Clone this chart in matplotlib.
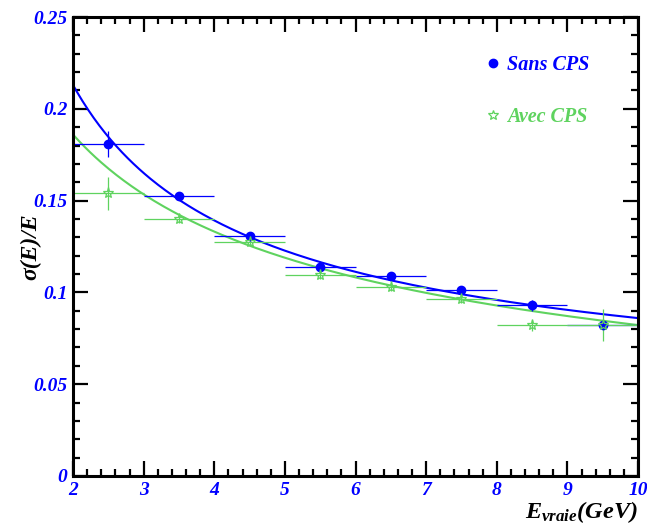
import numpy as np
import matplotlib
matplotlib.use('Agg')
import matplotlib.pyplot as plt
from matplotlib.lines import Line2D
from matplotlib.ticker import MultipleLocator

plt.rcParams['font.family'] = ['Liberation Serif', 'DejaVu Serif']
plt.rcParams['mathtext.fontset'] = 'custom'
plt.rcParams['mathtext.it'] = 'Liberation Serif:italic:bold'
plt.rcParams['mathtext.rm'] = 'Liberation Serif:bold'

# data
energy = [2.5, 3.5, 4.5, 5.5, 6.5, 7.5, 8.5, 9.5]
energy_err = [0.5] * 8
sans_cps = [0.1808, 0.1525, 0.1307, 0.1138, 0.1089, 0.1013, 0.0931, 0.0822]
sans_cps_err = [0.007, 0.002, 0.002, 0.002, 0.002, 0.002, 0.003, 0.002]
avec_cps = [0.1541, 0.1400, 0.1275, 0.1095, 0.1029, 0.0964, 0.0822, 0.0822]
avec_cps_err = [0.009, 0.002, 0.002, 0.002, 0.002, 0.002, 0.003, 0.0085]

# fit parameters: sigma/E = a/sqrt(E) + b/E + c
fit_sans = (0.1499, 0.171, 0.0215)
fit_avec = (0.3225, -0.0557, -0.0142)

blue = '#0000ff'
green = '#5fd35f'
font = dict(family='Liberation Serif', weight='bold', style='italic')

fig = plt.figure(figsize=(6.47, 5.31), dpi=100)
ax = fig.add_axes([73/647, 55/531, 565/647, 459/531])

def resolution(e, p):
    return p[0] / np.sqrt(e) + p[1] / e + p[2]

e = np.linspace(2, 10, 300)
ax.plot(e, resolution(e, fit_sans), color=blue, lw=1.5)
ax.plot(e, resolution(e, fit_avec), color=green, lw=1.5)

ax.errorbar(energy, sans_cps, xerr=energy_err, yerr=sans_cps_err, fmt='o',
            color=blue, ms=6, elinewidth=0.9, capsize=0)
ax.errorbar(energy, avec_cps, xerr=energy_err, yerr=avec_cps_err, fmt='*',
            color=green, mfc='none', mec=green, ms=8, mew=0.9, elinewidth=0.9, capsize=0)

ax.set_xlim(2, 10)
ax.set_ylim(0, 0.25)
ax.xaxis.set_major_locator(MultipleLocator(1))
ax.xaxis.set_minor_locator(MultipleLocator(0.2))
ax.yaxis.set_minor_locator(MultipleLocator(0.01))
ax.set_yticks([0, 0.05, 0.1, 0.15, 0.2, 0.25])
ax.set_yticklabels(['0', '0.05', '0.1', '0.15', '0.2', '0.25'])
ax.tick_params(which='both', direction='in', top=True, right=True, width=1.6,
               labelcolor=blue, labelsize=14, pad=4)
ax.tick_params(which='major', length=11)
ax.tick_params(which='minor', length=5)
for lab in ax.get_xticklabels() + ax.get_yticklabels():
    lab.set_fontweight('bold')
    lab.set_fontstyle('italic')
for sp in ax.spines.values():
    sp.set_linewidth(2.2)

ax.text(1.0, -0.05, r'$E_{vraie}$(GeV)', transform=ax.transAxes, ha='right', va='top',
        fontsize=17.5, **font)
fig.text(31/647, 1 - 247/531, 'σ(E)/E', rotation=90, ha='center', va='center',
         fontsize=17, **font)

handles = [Line2D([], [], ls='none', marker='o', color=blue, ms=6),
           Line2D([], [], ls='none', marker='*', mfc='none', mec=green, ms=7, mew=0.9)]
leg = ax.legend(handles, ['Sans CPS', 'Avec CPS'], loc='upper left',
                bbox_to_anchor=(0.701, 0.957), frameon=False, handlelength=0.6,
                handletextpad=0.4, labelspacing=1.62,
                prop=dict(family='Liberation Serif', weight='bold', style='italic', size=14.5))
for txt, c in zip(leg.get_texts(), [blue, green]):
    txt.set_color(c)

plt.savefig('out.png', dpi=100)
